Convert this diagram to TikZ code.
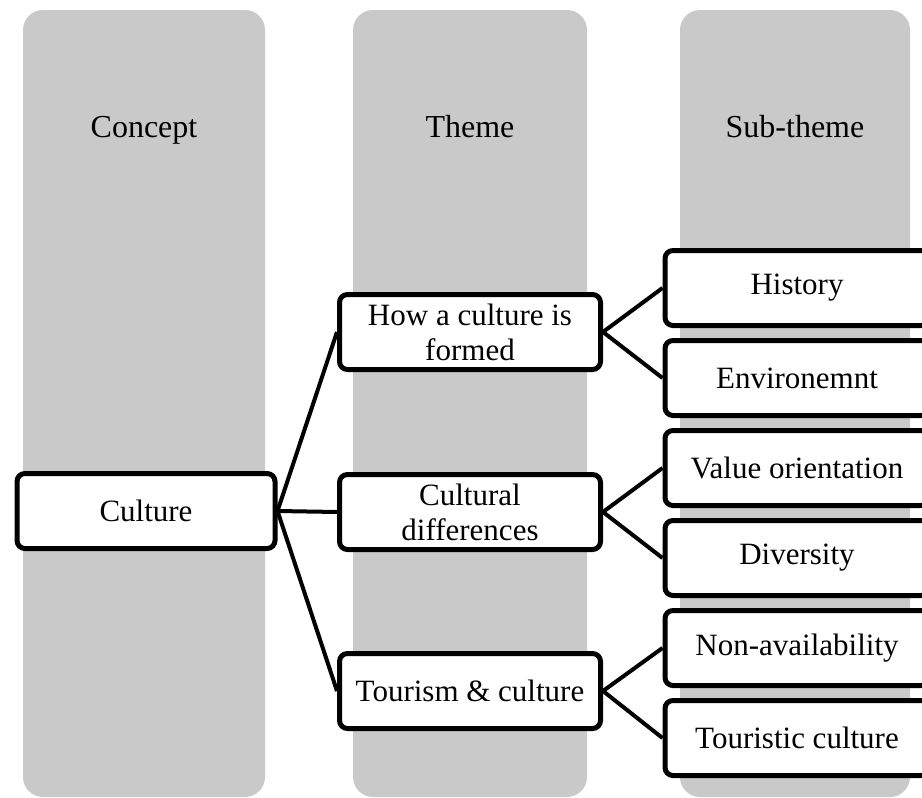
\documentclass[tikz,border=0pt]{standalone}
\usepackage{fontspec}
\setmainfont{Liberation Serif}
\usetikzlibrary{positioning}

\begin{document}
\begin{tikzpicture}[x=1pt,y=-1pt,
  column/.style={fill=black!21, rounded corners=20pt},
  head/.style={anchor=base, font=\fontsize{32}{36}\selectfont},
  box/.style={draw, line width=5pt, rounded corners=8pt, fill=white,
    minimum height=75pt, inner sep=2pt, align=center,
    font=\fontsize{31}{35}\selectfont},
  link/.style={line width=4pt},
  node distance=10pt]
\useasboundingbox (0,0) rectangle (922,798);
% grey columns
\fill[column] (23,10) rectangle (265,797);
\fill[column] (353,10) rectangle (587,797);
\fill[column] (680,10) rectangle (910,797);
\node[head] (concept) at (144,137) {Concept};
\node[head] (theme) at (470,137) {Theme};
\node[head] (subtheme) at (795,137) {Sub-theme};
% concept
\node[box, minimum width=258pt] (culture) at (146,511) {Culture};
% themes
\node[box, minimum width=261pt] (formed) at (470,332) {How a culture is\\formed};
\node[box, minimum width=261pt] (differences) at (470,512) {Cultural\\differences};
\node[box, minimum width=261pt] (tourism) at (470,691) {Tourism \& culture};
% sub-themes
\node[box, minimum width=264pt] (history) at (797,288) {History};
\node[box, minimum width=264pt, below=of history] (environment) {Environemnt};
\node[box, minimum width=264pt, below=of environment] (value) {Value orientation};
\node[box, minimum width=264pt, below=of value] (diversity) {Diversity};
\node[box, minimum width=264pt, below=of diversity] (nonavail) {Non-availability};
\node[box, minimum width=264pt, below=of nonavail] (touristic) {Touristic culture};
% links
\draw[link] (culture.east) -- (formed.west);
\draw[link] (culture.east) -- (differences.west);
\draw[link] (culture.east) -- (tourism.west);
\draw[link] (formed.east) -- (history.west);
\draw[link] (formed.east) -- (environment.west);
\draw[link] (differences.east) -- (value.west);
\draw[link] (differences.east) -- (diversity.west);
\draw[link] (tourism.east) -- (nonavail.west);
\draw[link] (tourism.east) -- (touristic.west);
\end{tikzpicture}
\end{document}
